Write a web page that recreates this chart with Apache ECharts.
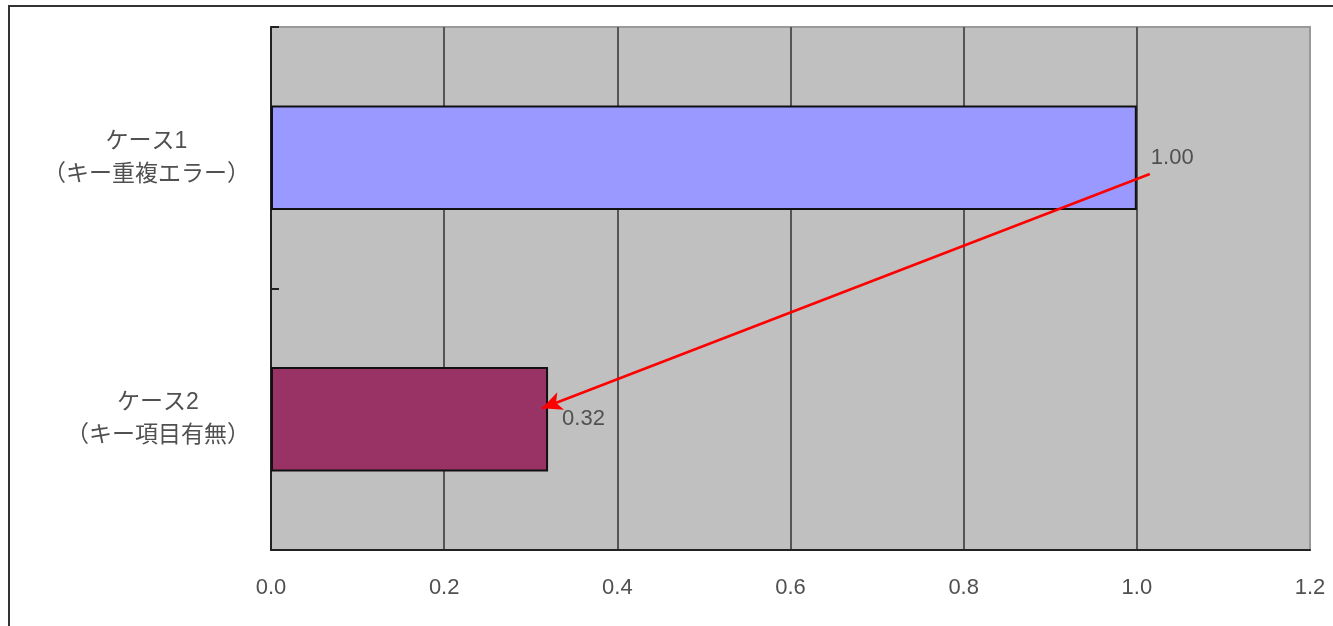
<!DOCTYPE html>
<html>
<head>
<meta charset="utf-8">
<script src="https://cdn.jsdelivr.net/npm/echarts@6/dist/echarts.min.js"></script>
<style>
  html, body { margin: 0; padding: 0; background: #fff; }
  #chart { width: 1333px; height: 626px; }
</style>
</head>
<body>
<div id="chart"></div>
<script>
// Categories (top to bottom) and their relative values
const categories = ['ケース1\n（キー重複エラー）', 'ケース2\n（キー項目有無）'];
const values = [1.00, 0.32];
const barColors = ['#9999ff', '#993366'];
const xTicks = { min: 0, max: 1.2, interval: 0.2 };

// Annotation arrow from the 1.00 label to the end of the second bar,
// in [value, band position] units (band position: 0..2 over the two categories)
const arrowFrom = [1.015, 0.562];
const arrowTo = [0.313, 1.458];

const FONT = "'Liberation Sans', 'Noto Sans CJK JP', sans-serif";
const TEXT = '#505050';

const chart = echarts.init(document.getElementById('chart'), null, { renderer: 'canvas' });

chart.setOption({
  animation: false,
  backgroundColor: '#ffffff',
  graphic: [{
    type: 'rect',
    silent: true,
    z: -1,
    shape: { x: 9, y: 6, width: 1400, height: 700 },
    style: { fill: 'none', stroke: '#333', lineWidth: 2 }
  }],
  grid: {
    left: 271, right: 23, top: 27, bottom: 76,
    show: true,
    backgroundColor: '#c0c0c0',
    borderColor: '#999999',
    borderWidth: 2
  },
  xAxis: {
    type: 'value',
    min: xTicks.min, max: xTicks.max, interval: xTicks.interval,
    axisLine: { show: true, onZero: false, lineStyle: { color: '#222', width: 2 } },
    axisTick: { show: false },
    splitLine: {
      show: true,
      lineStyle: { color: ['#333', '#555', '#555', '#555', '#555', '#555', '#999'], width: 2 }
    },
    axisLabel: {
      formatter: v => v.toFixed(1),
      fontSize: 22, color: TEXT, fontFamily: FONT, margin: 27
    }
  },
  yAxis: [{
    type: 'category',
    data: categories,
    inverse: true,
    axisLine: { show: true, onZero: false, lineStyle: { color: '#222', width: 2 } },
    axisTick: { show: true, inside: true, length: 8, lineStyle: { color: '#222', width: 2 } },
    splitLine: { show: false },
    axisLabel: {
      align: 'right',
      margin: 21,
      formatter: v => v.split('\n').map(s => '{c|' + s + '}').join('\n'),
      rich: {
        c: { align: 'center', fontSize: 23, lineHeight: 33, color: TEXT, fontFamily: FONT }
      }
    }
  }, {
    type: 'value',
    min: 0, max: 2,
    inverse: true,
    show: false
  }],
  series: [{
    type: 'bar',
    barWidth: '40%',
    data: values.map((v, i) => ({
      value: v,
      itemStyle: { color: barColors[i], borderColor: '#111', borderWidth: 2 }
    })),
    label: {
      show: true,
      position: 'right',
      distance: 14,
      formatter: p => p.value.toFixed(2),
      fontSize: 22, color: TEXT, fontFamily: FONT
    }
  }, {
    type: 'line',
    yAxisIndex: 1,
    data: [],
    silent: true,
    markLine: {
      silent: true,
      symbol: ['none', 'arrow'],
      symbolSize: [14, 20],
      label: { show: false },
      lineStyle: { color: '#ff0000', width: 2.5, type: 'solid' },
      data: [[{ coord: arrowFrom }, { coord: arrowTo }]]
    }
  }]
});
</script>
</body>
</html>
